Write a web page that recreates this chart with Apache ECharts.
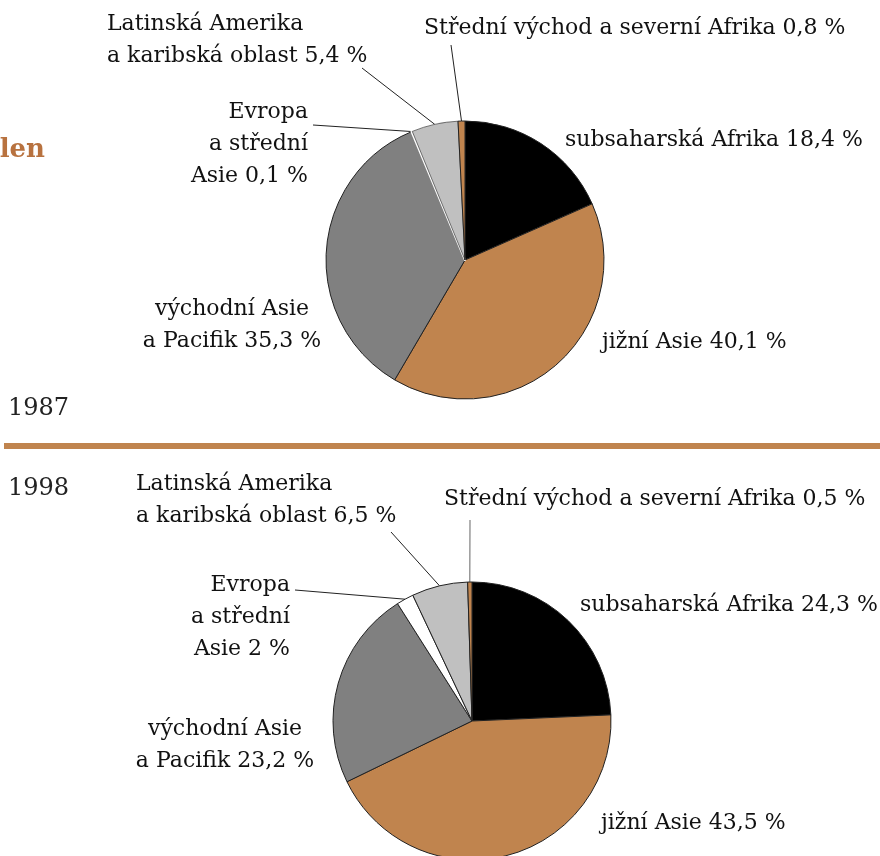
<!DOCTYPE html>
<html>
<head>
<meta charset="utf-8">
<title>Podíl regionů</title>
<script src="https://cdn.jsdelivr.net/npm/echarts@6/dist/echarts.min.js"></script>
</head>
<body style="margin:0;background:#fff;">
<div id="main" style="width:880px;height:856px;"></div>
<script type="text/javascript">
    // regiony v pořadí po směru hodinových ručiček od 12 hodin
    var regions = [
        'subsaharská Afrika',
        'jižní Asie',
        'východní Asie\na Pacifik',
        'Evropa\na střední\nAsie',
        'Latinská Amerika\na karibská oblast',
        'Střední východ a severní Afrika'
    ];
    var share1987 = [18.4, 40.1, 35.3, 0.1, 5.4, 0.8];
    var share1998 = [24.3, 43.5, 23.2, 2, 6.5, 0.5];
    var sliceColors = ['#000000', '#c0844e', '#808080', '#ffffff', '#c0c0c0', '#c0844e'];
    var years = ['1987', '1998'];

    var serif = '"DejaVu Serif", "Liberation Serif", serif';

    // umístění popisků (levý/pravý okraj, horní hrana, zarovnání, konec vodicí čáry)
    var place1987 = [
        {x: 565, y: 124, align: 'left'},
        {x: 602, y: 326, align: 'left'},
        {x: 232, y: 293, align: 'center'},
        {x: 308, y: 96, align: 'right', line: [313, 125]},
        {x: 107, y: 8, align: 'left', line: [362, 68]},
        {x: 424, y: 12, align: 'left', line: [451, 45]}
    ];
    var place1998 = [
        {x: 580, y: 589, align: 'left'},
        {x: 601, y: 807, align: 'left'},
        {x: 225, y: 713, align: 'center'},
        {x: 290, y: 569, align: 'right', line: [295, 590]},
        {x: 136, y: 468, align: 'left', line: [391, 532]},
        {x: 444, y: 483, align: 'left', line: [470, 520]}
    ];

    function fmt(v) {
        return String(v).replace('.', ',') + ' %';
    }

    function makeData(values, places, year) {
        return values.map(function (v, i) {
            var item = {
                name: regions[i],
                value: v,
                itemStyle: {color: sliceColors[i]},
                labelLine: {show: !!places[i].line}
            };
            if (year === '1987' && i === 3) {
                item.itemStyle.borderColor = '#ffffff';
                item.itemStyle.borderWidth = 2;
            }
            if (year === '1987' && i === 4) {
                item.itemStyle.borderWidth = 0.6;
            }
            if (year === '1998' && i === 5) {
                item.labelLine.lineStyle = {color: '#666666'};
            }
            return item;
        });
    }

    function makeLayout(places) {
        return function (params) {
            var p = places[params.dataIndex];
            var out = {x: p.x, y: p.y, align: p.align, verticalAlign: 'top'};
            if (p.line && params.labelLinePoints) {
                var s = params.labelLinePoints[0];
                out.labelLinePoints = [s, s, p.line];
            }
            return out;
        };
    }

    function makeSeries(values, places, center, year) {
        return {
            type: 'pie',
            center: center,
            radius: 139,
            startAngle: 90,
            clockwise: true,
            silent: true,
            animation: false,
            avoidLabelOverlap: false,
            itemStyle: {borderColor: '#222222', borderWidth: 1},
            label: {
                show: true,
                position: 'outside',
                overflow: 'none',
                fontFamily: serif,
                fontSize: 22,
                lineHeight: 32,
                color: '#111111',
                formatter: function (p) {
                    return p.name + ' ' + fmt(p.value);
                }
            },
            labelLine: {
                show: false,
                smooth: false,
                lineStyle: {color: '#222222', width: 1}
            },
            labelLayout: makeLayout(places),
            data: makeData(values, places, year)
        };
    }

    var myChart = echarts.init(document.getElementById('main'));

    myChart.setOption({
        backgroundColor: '#ffffff',
        graphic: [
            {
                type: 'text', x: 45, y: 150,
                style: {text: 'len', font: 'bold 26px ' + serif, fill: '#b8723f', align: 'right', verticalAlign: 'middle'}
            },
            {
                type: 'text', x: 8, y: 409,
                style: {text: years[0], font: '24px ' + serif, fill: '#222222', verticalAlign: 'middle'}
            },
            {
                type: 'rect',
                shape: {x: 4, y: 443, width: 876, height: 6},
                style: {fill: '#c0844e'}
            },
            {
                type: 'text', x: 8, y: 489,
                style: {text: years[1], font: '24px ' + serif, fill: '#222222', verticalAlign: 'middle'}
            }
        ],
        series: [
            makeSeries(share1987, place1987, [465, 260], years[0]),
            makeSeries(share1998, place1998, [472, 721], years[1])
        ]
    });
</script>
</body>
</html>
